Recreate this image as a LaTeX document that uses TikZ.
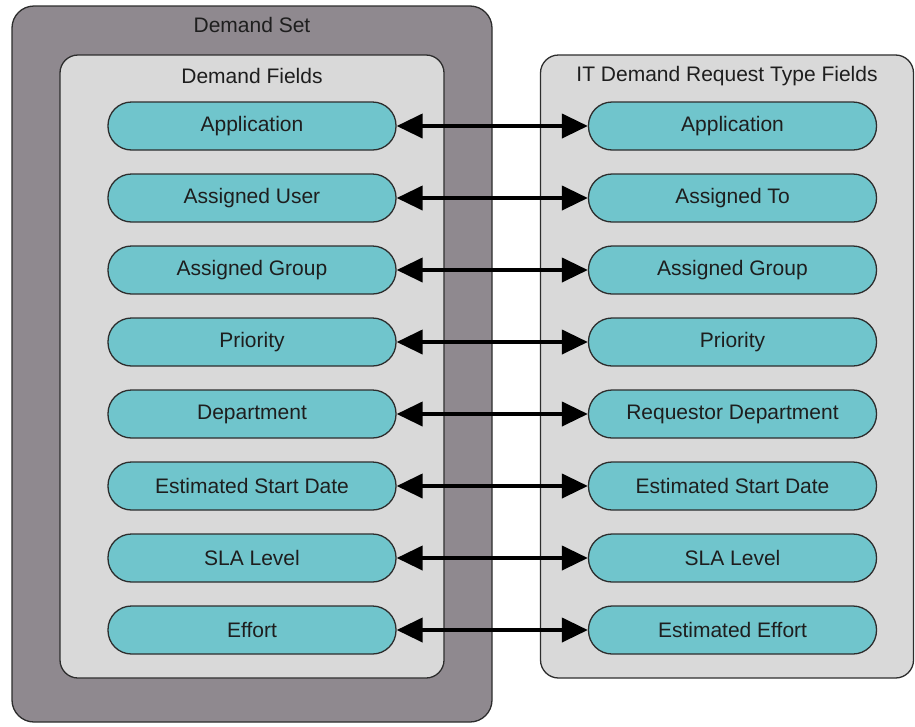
\documentclass[tikz,border=0pt]{standalone}
\usepackage{fontspec}
\setmainfont{Liberation Sans}
\usetikzlibrary{arrows.meta}
\definecolor{setgray}{RGB}{143, 137, 143}
\definecolor{fieldgray}{RGB}{217, 217, 217}
\definecolor{fieldteal}{RGB}{112, 197, 204}
\definecolor{edgegray}{RGB}{45, 45, 45}
\definecolor{textgray}{RGB}{30, 30, 30}

\begin{document}
\begin{tikzpicture}[x=1pt, y=-1pt,
  font=\fontsize{21}{24}\selectfont, text=textgray,
  container/.style={draw=edgegray, line width=1.3pt, inner sep=0pt},
  field/.style={draw=edgegray, line width=1.3pt, fill=fieldteal, rounded corners=23.5pt,
    minimum width=288pt, minimum height=48pt, inner sep=0pt},
  link/.style={line width=4pt, {Triangle[length=26pt,width=24pt]}-{Triangle[length=26pt,width=24pt]}}]
\useasboundingbox (0,0) rectangle (915,726);
% containers
\node[container, fill=setgray, rounded corners=22pt, minimum width=480pt, minimum height=716pt] (demandset) at (252,364) {};
\node[container, fill=fieldgray, rounded corners=18pt, minimum width=384pt, minimum height=623pt] (demandfields) at (252,366.5) {};
\node[container, fill=fieldgray, rounded corners=18pt, minimum width=373pt, minimum height=623pt] (itfields) at (727,366.5) {};
\node (demandsettitle) at (252,25) {Demand Set};
\node (demandfieldstitle) at (252,76) {Demand Fields};
\node (itfieldstitle) at (727,76) {IT Demand Request Type Fields};
% demand fields
\node[field] (l1) at (252,126) {Application};
\node[field] (l2) at (252,198) {Assigned User};
\node[field] (l3) at (252,270) {Assigned Group};
\node[field] (l4) at (252,342) {Priority};
\node[field] (l5) at (252,414) {Department};
\node[field] (l6) at (252,486) {Estimated Start Date};
\node[field] (l7) at (252,558) {SLA Level};
\node[field] (l8) at (252,630) {Effort};
% request type fields
\node[field] (r1) at (732.5,126) {Application};
\node[field] (r2) at (732.5,198) {Assigned To};
\node[field] (r3) at (732.5,270) {Assigned Group};
\node[field] (r4) at (732.5,342) {Priority};
\node[field] (r5) at (732.5,414) {Requestor Department};
\node[field] (r6) at (732.5,486) {Estimated Start Date};
\node[field] (r7) at (732.5,558) {SLA Level};
\node[field] (r8) at (732.5,630) {Estimated Effort};
% mappings
\draw[link] (l1.east) -- (r1.west);
\draw[link] (l2.east) -- (r2.west);
\draw[link] (l3.east) -- (r3.west);
\draw[link] (l4.east) -- (r4.west);
\draw[link] (l5.east) -- (r5.west);
\draw[link] (l6.east) -- (r6.west);
\draw[link] (l7.east) -- (r7.west);
\draw[link] (l8.east) -- (r8.west);
\end{tikzpicture}
\end{document}
